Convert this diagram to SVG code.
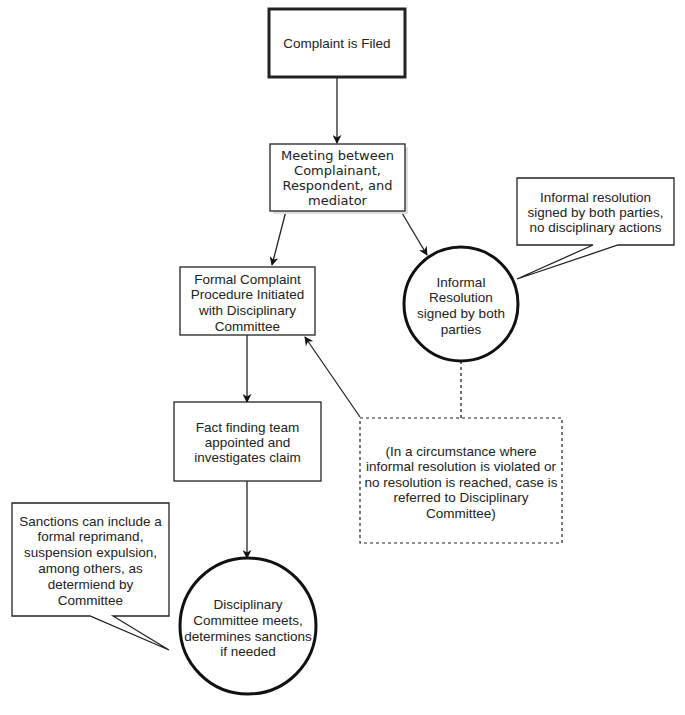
<svg xmlns="http://www.w3.org/2000/svg" width="685" height="715" viewBox="0 0 685 715">
<style>
text{font-family:"Liberation Sans",Arial,sans-serif;font-size:13.5px;fill:#222;text-anchor:middle}
.v{font-family:"DejaVu Sans",Verdana,sans-serif;font-size:13px}
.box{fill:#fff;stroke:#222;stroke-width:1.3}
.thick{fill:#fff;stroke:#222;stroke-width:3}
.dash{fill:#fff;stroke:#222;stroke-width:1.2;stroke-dasharray:3 3}
.ln{fill:none;stroke:#222;stroke-width:1.3}
</style>
<defs>
<marker id="ah" viewBox="0 0 10 10" refX="9" refY="5" markerWidth="9" markerHeight="9" markerUnits="userSpaceOnUse" orient="auto">
<path d="M0,0 L10,5 L0,10 L3,5 z" fill="#111"/>
</marker>
</defs>
<g id="connectors">
<line class="ln" x1="337" y1="77" x2="337" y2="143" marker-end="url(#ah)"/>
<line class="ln" x1="286" y1="211" x2="272" y2="265" marker-end="url(#ah)"/>
<line class="ln" x1="402" y1="213" x2="427" y2="255" marker-end="url(#ah)"/>
<line class="ln" x1="247" y1="335" x2="247" y2="402" marker-end="url(#ah)"/>
<line class="ln" x1="360" y1="417" x2="305" y2="337" marker-end="url(#ah)"/>
<line class="ln" x1="247" y1="481" x2="247" y2="558" marker-end="url(#ah)"/>
<line class="ln" x1="461" y1="361" x2="461" y2="418" stroke-dasharray="3 3"/>
</g>
<g id="complaint-filed">
<rect class="thick" x="269" y="9" width="136" height="68"/>
<text x="337" y="48">Complaint is Filed</text>
</g>
<g id="meeting">
<rect x="273" y="147" width="135" height="67" fill="#ddd"/>
<rect class="box" x="270" y="144" width="135" height="67"/>
<text class="v" x="337.5" y="160">Meeting between</text>
<text class="v" x="337.5" y="175">Complainant,</text>
<text class="v" x="337.5" y="190">Respondent, and</text>
<text class="v" x="337.5" y="205">mediator</text>
</g>
<g id="formal-complaint">
<rect class="box" x="180" y="267" width="135" height="68"/>
<text x="247.5" y="284">Formal Complaint</text>
<text x="247.5" y="299">Procedure Initiated</text>
<text x="247.5" y="315">with Disciplinary</text>
<text x="247.5" y="331">Committee</text>
</g>
<g id="informal-resolution">
<circle cx="461" cy="304" r="57" fill="#fff" stroke="#111" stroke-width="3"/>
<text x="461" y="287">Informal</text>
<text x="461" y="302">Resolution</text>
<text x="461" y="318">signed by both</text>
<text x="461" y="334">parties</text>
</g>
<g id="informal-callout">
<path class="box" d="M517,178 H674 V245 H618 L517,279 L593,245 H517 Z"/>
<text x="595.5" y="202">Informal resolution</text>
<text x="595.5" y="217">signed by both parties,</text>
<text x="595.5" y="232">no disciplinary actions</text>
</g>
<g id="circumstance">
<rect class="dash" x="360" y="418" width="202" height="125"/>
<text x="461" y="456">(In a circumstance where</text>
<text x="461" y="471">informal resolution is violated or</text>
<text x="461" y="487">no resolution is reached, case is</text>
<text x="461" y="502">referred to Disciplinary</text>
<text x="461" y="518">Committee)</text>
</g>
<g id="fact-finding">
<rect class="box" x="174" y="402" width="147" height="79"/>
<text x="247.5" y="432">Fact finding team</text>
<text x="247.5" y="447">appointed and</text>
<text x="247.5" y="462">investigates claim</text>
</g>
<g id="disciplinary-committee">
<circle cx="248" cy="626" r="68" fill="#fff" stroke="#111" stroke-width="3"/>
<text x="248" y="609">Disciplinary</text>
<text x="248" y="625">Committee meets,</text>
<text x="248" y="641">determines sanctions</text>
<text x="248" y="656">if needed</text>
</g>
<g id="sanctions-callout">
<path class="box" d="M12,503 H169 V616 H113 L169,650 L90,616 H12 Z"/>
<text x="90.5" y="526">Sanctions can include a</text>
<text x="90.5" y="541">formal reprimand,</text>
<text x="90.5" y="557">suspension expulsion,</text>
<text x="90.5" y="573">among others, as</text>
<text x="90.5" y="589">determiend by</text>
<text x="90.5" y="605">Committee</text>
</g>
</svg>
